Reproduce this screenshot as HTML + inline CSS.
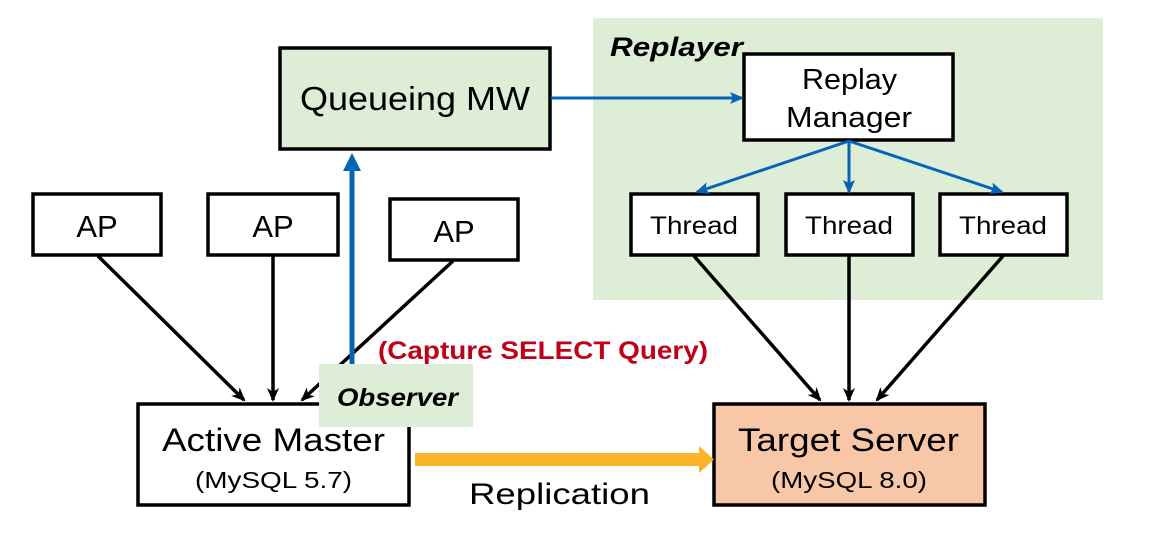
<!DOCTYPE html>
<html><head><meta charset="utf-8"><style>
html,body{margin:0;padding:0;background:#fff;}
svg{display:block;}
text{font-family:"Liberation Sans","Noto Sans CJK JP",sans-serif;}
</style></head><body>
<svg width="1151" height="554" viewBox="0 0 1151 554" xmlns="http://www.w3.org/2000/svg">
<defs>
<marker id="bk" markerWidth="14" markerHeight="12" refX="12" refY="6" orient="auto" markerUnits="userSpaceOnUse"><path d="M0,0 L14,6 L0,12 L4,6 z" fill="#000"/></marker>
<marker id="bl" markerWidth="14" markerHeight="12" refX="12" refY="6" orient="auto" markerUnits="userSpaceOnUse"><path d="M0,0 L14,6 L0,12 L3,6 z" fill="#0563b8"/></marker>
</defs>
<rect x="593" y="18" width="510" height="282" fill="#deeed6"/>
<text x="610" y="56" font-size="27" font-weight="bold" font-style="italic" textLength="133" lengthAdjust="spacingAndGlyphs">Replayer</text>

<rect x="280" y="48" width="270" height="101" fill="#deeed6" stroke="#000" stroke-width="3.5"/>
<text x="300" y="110" font-size="33" textLength="230" lengthAdjust="spacingAndGlyphs">Queueing MW</text>

<rect x="744" y="54" width="209" height="86" fill="#fff" stroke="#000" stroke-width="3.5"/>
<text x="802" y="89" font-size="29" textLength="95" lengthAdjust="spacingAndGlyphs">Replay</text>
<text x="786" y="127" font-size="29" textLength="126" lengthAdjust="spacingAndGlyphs">Manager</text>

<rect x="631" y="194" width="127" height="61" fill="#fff" stroke="#000" stroke-width="3.5"/>
<text x="650" y="234" font-size="25" textLength="88" lengthAdjust="spacingAndGlyphs">Thread</text>
<rect x="786" y="194" width="127" height="61" fill="#fff" stroke="#000" stroke-width="3.5"/>
<text x="805" y="234" font-size="25" textLength="88" lengthAdjust="spacingAndGlyphs">Thread</text>
<rect x="940" y="194" width="127" height="61" fill="#fff" stroke="#000" stroke-width="3.5"/>
<text x="959" y="234" font-size="25" textLength="88" lengthAdjust="spacingAndGlyphs">Thread</text>

<rect x="33" y="194" width="128" height="61" fill="#fff" stroke="#000" stroke-width="3.5"/>
<text x="97" y="237" font-size="31" text-anchor="middle">AP</text>
<rect x="208" y="194" width="130" height="61" fill="#fff" stroke="#000" stroke-width="3.5"/>
<text x="273" y="237" font-size="31" text-anchor="middle">AP</text>
<rect x="390" y="199" width="128" height="61" fill="#fff" stroke="#000" stroke-width="3.5"/>
<text x="454" y="242" font-size="31" text-anchor="middle">AP</text>

<g stroke="#000" stroke-width="3.5" fill="none" marker-end="url(#bk)">
<line x1="98" y1="256" x2="244" y2="400"/>
<line x1="273" y1="256" x2="273" y2="400"/>
<line x1="453" y1="261" x2="302" y2="400"/>
<line x1="694" y1="256" x2="820" y2="400"/>
<line x1="849" y1="256" x2="849" y2="400"/>
<line x1="1003" y1="256" x2="877" y2="400"/>
</g>

<g stroke="#0563b8" stroke-width="3" fill="none" marker-end="url(#bl)">
<line x1="551" y1="98" x2="742" y2="98"/>
<line x1="849" y1="141" x2="697" y2="192"/>
<line x1="849" y1="141" x2="849" y2="192"/>
<line x1="849" y1="141" x2="1002" y2="192"/>
</g>
<line x1="352" y1="366" x2="352" y2="170" stroke="#0563b8" stroke-width="5"/>
<path d="M343,171 L352,153 L361,171 z" fill="#0563b8"/>

<rect x="138" y="404" width="271" height="101" fill="#fff" stroke="#000" stroke-width="3.5"/>
<text x="162" y="451" font-size="32" textLength="223" lengthAdjust="spacingAndGlyphs">Active Master</text>
<text x="195" y="488" font-size="23" textLength="157" lengthAdjust="spacingAndGlyphs">(MySQL 5.7)</text>

<rect x="319" y="364" width="154" height="63" fill="#deeed6"/>
<text x="337" y="406" font-size="25" font-weight="bold" font-style="italic" textLength="121" lengthAdjust="spacingAndGlyphs">Observer</text>

<text x="378" y="359" font-size="25" font-weight="bold" fill="#c00018" textLength="330" lengthAdjust="spacingAndGlyphs">(Capture SELECT Query)</text>

<rect x="714" y="404" width="271" height="101" fill="#f8c7a8" stroke="#000" stroke-width="3.5"/>
<text x="738" y="451" font-size="32" textLength="221" lengthAdjust="spacingAndGlyphs">Target Server</text>
<text x="771" y="488" font-size="23" textLength="156" lengthAdjust="spacingAndGlyphs">(MySQL 8.0)</text>

<rect x="415" y="453" width="286" height="13" fill="#fbb42a"/>
<path d="M699,446 L714,459.5 L699,473 z" fill="#fbb42a"/>
<text x="469" y="504" font-size="30" textLength="181" lengthAdjust="spacingAndGlyphs">Replication</text>
</svg>
</body></html>
